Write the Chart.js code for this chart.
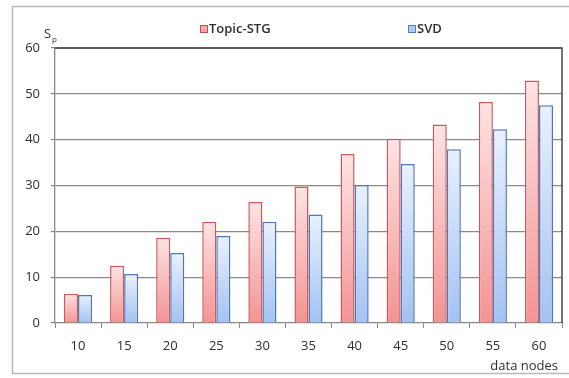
<!DOCTYPE html>
<html>
<head>
<meta charset="utf-8">
<script src="https://cdn.jsdelivr.net/npm/chart.js@4/dist/chart.umd.min.js"></script>
<style>
  html, body { margin: 0; padding: 0; background: #fff; }
  #wrap { width: 569px; height: 378px; position: relative; }
</style>
</head>
<body>
<div id="wrap"><canvas id="c" width="569" height="378"></canvas></div>
<script>
// Categories and series
const nodes = ['10', '15', '20', '25', '30', '35', '40', '45', '50', '55', '60'];
const topicSTG = [6.4, 12.5, 18.6, 22.1, 26.4, 29.8, 36.9, 40.2, 43.3, 48.2, 52.9];
const svd = [6.1, 10.7, 15.3, 19.0, 22.1, 23.7, 30.1, 34.7, 37.9, 42.3, 47.5];
const seriesNames = ['Topic-STG', 'SVD'];

const FONT = '"Open Sans", "DejaVu Sans", sans-serif';

// Per-bar vertical gradient: light at the top of each bar, saturated at its base
function barGrad(c, top, bottom) {
  const chart = c.chart;
  const area = chart.chartArea;
  if (!area || c.parsed === undefined) return bottom;
  const yTop = chart.scales.y.getPixelForValue(c.parsed.y);
  const g = chart.ctx.createLinearGradient(0, yTop, 0, area.bottom);
  g.addColorStop(0, top);
  g.addColorStop(1, bottom);
  return g;
}

// Frame, top/right plot border, legend and axis titles
const decorations = {
  id: 'decorations',
  beforeDraw(chart) {
    const ctx = chart.ctx;
    ctx.save();
    ctx.fillStyle = '#fff';
    ctx.fillRect(0, 0, chart.width, chart.height);
    ctx.restore();
  },
  afterDraw(chart) {
    const ctx = chart.ctx;
    const a = chart.chartArea;
    ctx.save();
    // outer frame
    ctx.strokeStyle = '#b8b8b8';
    ctx.lineWidth = 1.5;
    ctx.strokeRect(12.5, 6.5, 570, 367);
    // top and right plot border
    ctx.strokeStyle = '#2a2a2a';
    ctx.lineWidth = 1.3;
    ctx.beginPath();
    ctx.moveTo(a.left, a.top);
    ctx.lineTo(a.right, a.top);
    ctx.lineTo(a.right, a.bottom);
    ctx.stroke();

    // legend
    ctx.font = '600 13px ' + FONT;
    ctx.textBaseline = 'middle';
    ctx.textAlign = 'left';
    const items = [
      { x: 200, name: seriesNames[0], fill: '#f6aaaa', stroke: '#c0504d' },
      { x: 408, name: seriesNames[1], fill: '#b0cbf2', stroke: '#4f81bd' }
    ];
    items.forEach(it => {
      ctx.fillStyle = it.fill;
      ctx.fillRect(it.x, 25, 7, 7);
      ctx.strokeStyle = it.stroke;
      ctx.lineWidth = 1;
      ctx.strokeRect(it.x + 0.5, 25.5, 7, 7);
      ctx.fillStyle = '#2e2e2e';
      ctx.fillText(it.name, it.x + 9, 29.5);
    });

    // y-axis title S_p
    ctx.textBaseline = 'alphabetic';
    ctx.fillStyle = '#2e2e2e';
    ctx.font = '13px ' + FONT;
    ctx.fillText('S', 44, 38);
    ctx.font = '8px ' + FONT;
    ctx.fillText('p', 52, 42);

    // x-axis title
    ctx.font = '13px ' + FONT;
    ctx.textAlign = 'right';
    ctx.fillText('data nodes', 558, 370);
    ctx.restore();
  }
};

new Chart(document.getElementById('c'), {
  type: 'bar',
  data: {
    labels: nodes,
    datasets: [
      {
        label: seriesNames[0],
        data: topicSTG,
        backgroundColor: c => barGrad(c, '#fde4e4', '#f39393'),
        borderColor: '#cc5a5a',
        borderWidth: 1.5,
        borderSkipped: 'bottom'
      },
      {
        label: seriesNames[1],
        data: svd,
        backgroundColor: c => barGrad(c, '#e9f1fe', '#a3c2f2'),
        borderColor: '#4f77b5',
        borderWidth: 1.5,
        borderSkipped: 'bottom'
      }
    ]
  },
  options: {
    responsive: false,
    animation: false,
    devicePixelRatio: 1,
    categoryPercentage: 0.61,
    barPercentage: 1.0,
    layout: { padding: { top: 48, right: 7, left: 0, bottom: 0 } },
    plugins: {
      legend: { display: false },
      tooltip: { enabled: false }
    },
    scales: {
      x: {
        afterFit: s => { s.height = 55; },
        grid: {
          display: true,
          drawOnChartArea: false,
          drawTicks: true,
          tickLength: 5,
          color: '#888',
          offset: true
        },
        border: { display: true, color: '#888', width: 1.3 },
        ticks: {
          color: '#2e2e2e',
          font: { family: FONT, size: 13 },
          padding: 10,
          maxRotation: 0
        }
      },
      y: {
        min: 0,
        max: 60,
        afterFit: s => { s.width = 55; },
        grid: {
          color: c => (c.tick && (c.tick.value === 0 || c.tick.value === 60)) ? 'rgba(0,0,0,0)' : '#8a8a8a',
          lineWidth: 1.2,
          borderDash: [6, 4],
          drawTicks: true,
          tickLength: 4,
          tickColor: '#888',
          tickBorderDash: []
        },
        border: { display: true, color: '#888', width: 1.3 },
        ticks: {
          stepSize: 10,
          color: '#2e2e2e',
          font: { family: FONT, size: 13 },
          padding: 11
        }
      }
    }
  },
  plugins: [decorations]
});
</script>
</body>
</html>
